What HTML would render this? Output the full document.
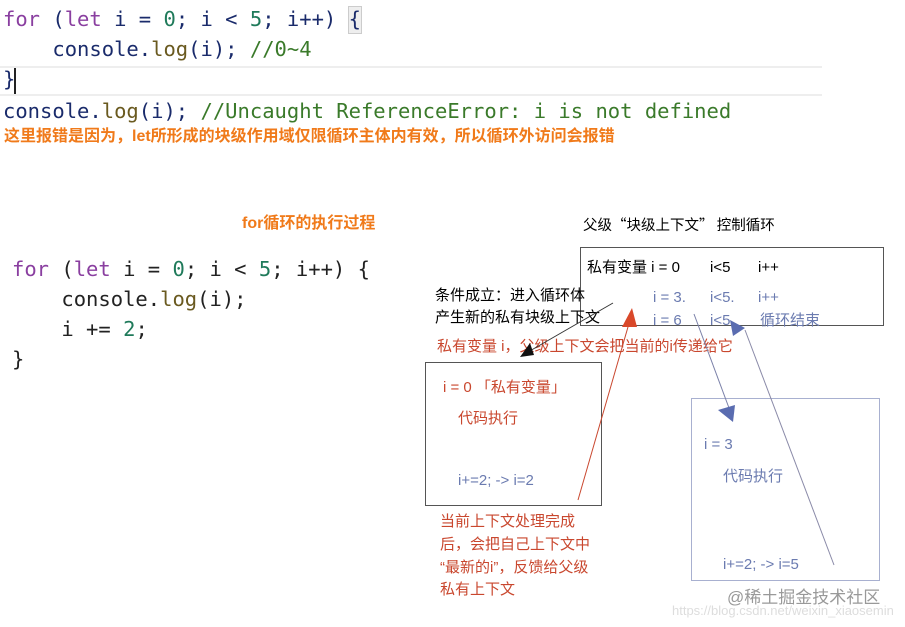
<!DOCTYPE html>
<html><head><meta charset="utf-8"><style>
body{margin:0;width:905px;height:627px;background:#fff;position:relative;overflow:hidden;font-family:"Liberation Sans","Noto Sans CJK SC",sans-serif}
.c{position:absolute;font-family:"DejaVu Sans Mono","Liberation Mono",monospace;font-size:20.5px;white-space:pre;color:#1a2b6b;line-height:1}
.k{color:#8a3fa0}.n{color:#1f7a5a}.g{color:#3a7a2a}.f{color:#6a5a20}
.t{position:absolute;white-space:nowrap;font-size:15px;line-height:1}
.r{color:#c9472e}.b{color:#6b7bb0}
.box{position:absolute;border:1px solid #555}
</style></head><body>
<div style="position:absolute;left:0;top:66px;width:822px;height:2px;background:#eee"></div>
<div style="position:absolute;left:0;top:94px;width:822px;height:2px;background:#eee"></div>
<div style="position:absolute;left:348px;top:6px;width:12px;height:26px;background:#eee;border:1px solid #ccc"></div>
<div class="c" style="left:3px;top:9px"><span class="k">for</span> (<span class="k">let</span> i = <span class="n">0</span>; i &lt; <span class="n">5</span>; i++) {</div>
<div class="c" style="left:3px;top:39px">    console.<span class="f">log</span>(i); <span class="g">//0~4</span></div>
<div class="c" style="left:3px;top:69px">}</div>
<div style="position:absolute;left:14px;top:68px;width:2px;height:26px;background:#222"></div>
<div class="c" style="left:3px;top:101px">console.<span class="f">log</span>(i); <span class="g">//Uncaught ReferenceError: i is not defined</span></div>
<div class="t" style="left:4px;top:129px;color:#f07a1a;font-weight:bold;font-size:16px">这里报错是因为，let所形成的块级作用域仅限循环主体内有效，所以循环外访问会报错</div>

<div class="t" style="left:242px;top:216px;color:#f07a1a;font-weight:bold;font-size:16px">for循环的执行过程</div>
<div class="c" style="left:12px;top:259px;color:#222"><span class="k">for</span> (<span class="k">let</span> i = <span class="n">0</span>; i &lt; <span class="n">5</span>; i++) {</div>
<div class="c" style="left:12px;top:289px;color:#222">    console.<span class="f">log</span>(i);</div>
<div class="c" style="left:12px;top:319px;color:#222">    i += <span class="n">2</span>;</div>
<div class="c" style="left:12px;top:349px;color:#222">}</div>

<div class="t" style="left:583px;top:218px;font-family:'Noto Sans CJK SC',sans-serif;font-size:14.5px">父级“块级上下文” 控制循环</div>
<div class="box" style="left:580px;top:247px;width:302px;height:77px"></div>
<div class="t" style="left:587px;top:260px">私有变量 i = 0</div>
<div class="t" style="left:710px;top:260px">i&lt;5</div>
<div class="t" style="left:758px;top:260px">i++</div>
<div class="t b" style="left:653px;top:290px">i = 3.</div>
<div class="t b" style="left:710px;top:290px">i&lt;5.</div>
<div class="t b" style="left:758px;top:290px">i++</div>
<div class="t b" style="left:653px;top:313px">i = 6</div>
<div class="t b" style="left:710px;top:313px">i&lt;5</div>
<div class="t b" style="left:760px;top:313px">循环结束</div>
<div class="t" style="left:435px;top:288px">条件成立：进入循环体</div>
<div class="t" style="left:435px;top:310px">产生新的私有块级上下文</div>
<div class="t r" style="left:437px;top:339px">私有变量 i，父级上下文会把当前的i传递给它</div>
<div class="box" style="left:425px;top:362px;width:175px;height:142px"></div>
<div class="t r" style="left:443px;top:380px">i = 0 「私有变量」</div>
<div class="t r" style="left:458px;top:411px">代码执行</div>
<div class="t b" style="left:458px;top:473px">i+=2;  -&gt; i=2</div>
<div class="t r" style="left:440px;top:514px">当前上下文处理完成</div>
<div class="t r" style="left:440px;top:537px">后，会把自己上下文中</div>
<div class="t r" style="left:440px;top:560px">“最新的i”，反馈给父级</div>
<div class="t r" style="left:440px;top:582px">私有上下文</div>
<div class="box" style="left:691px;top:398px;width:187px;height:181px;border-color:#a8b0d0"></div>
<div class="t b" style="left:704px;top:437px">i = 3</div>
<div class="t b" style="left:723px;top:469px">代码执行</div>
<div class="t b" style="left:723px;top:557px">i+=2;  -&gt; i=5</div>
<div class="t" style="left:727px;top:589px;font-size:17px;color:#999">@稀土掘金技术社区</div>
<div class="t" style="left:672px;top:604px;font-size:13px;color:#ddd">https://blog.csdn.net/weixin_xiaosemin</div>
<svg style="position:absolute;left:0;top:0" width="905" height="627">
<line x1="613" y1="303" x2="528" y2="352" stroke="#333" stroke-width="1"/>
<polygon points="520,357 530,343 534,355" fill="#111"/>
<line x1="578" y1="500" x2="630" y2="320" stroke="#c9472e" stroke-width="1"/>
<polygon points="632,308 622,327 637,327" fill="#d9482a"/>
<line x1="694" y1="314" x2="729" y2="408" stroke="#7a80a8" stroke-width="1"/>
<polygon points="733,422 718,410 735,405" fill="#5a6cb0"/>
<line x1="745" y1="330" x2="834" y2="565" stroke="#8a8aa8" stroke-width="1"/>
<polygon points="745,328 730,320 733,336" fill="#5a6cb0"/>
</svg>
</body></html>
